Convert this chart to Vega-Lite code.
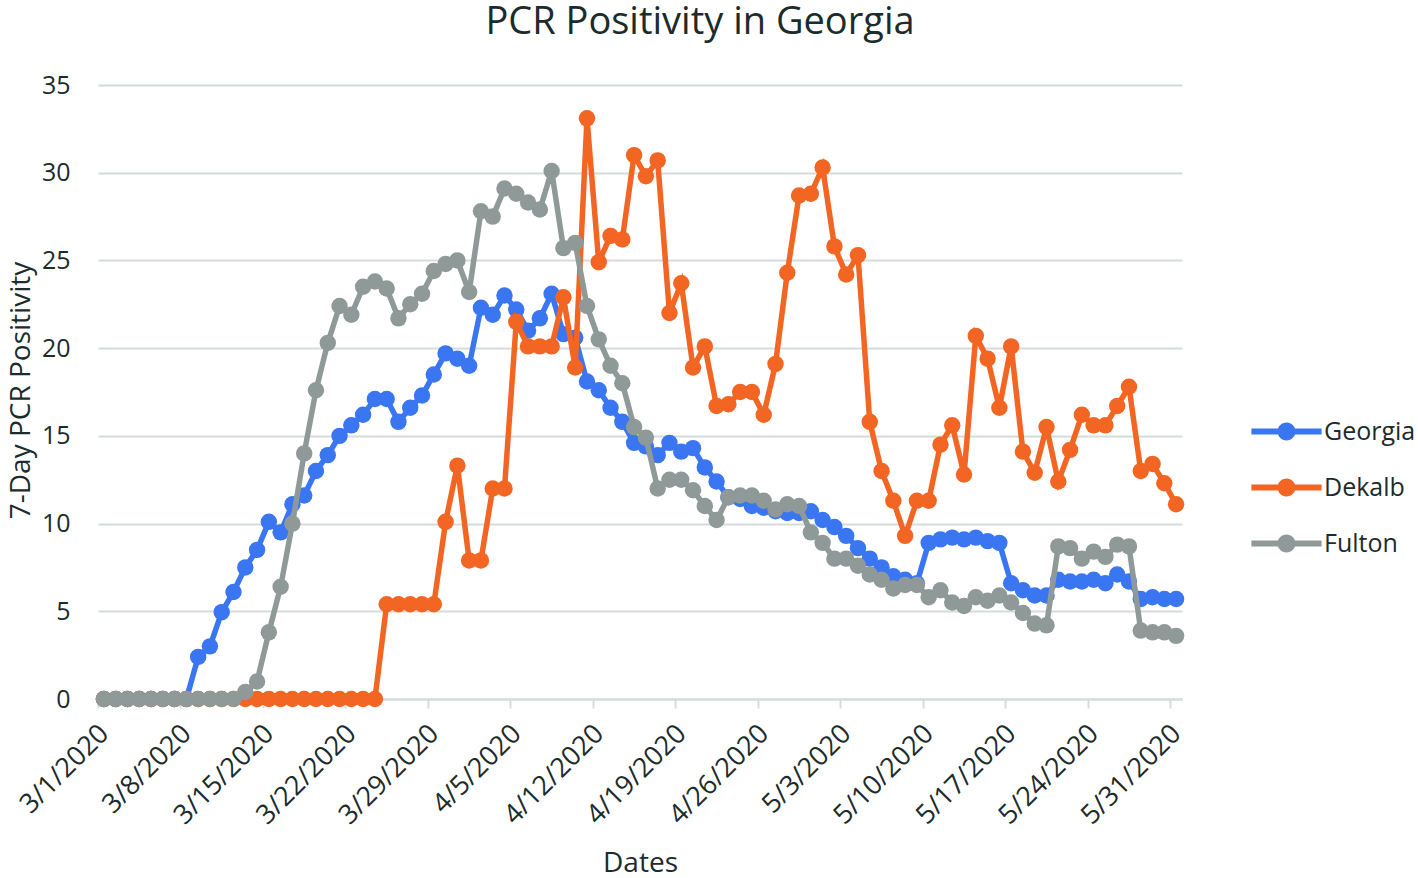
{
  "$schema": "https://vega.github.io/schema/vega-lite/v6.json",
  "width": 1084,
  "height": 614,
  "autosize": {"type": "none"},
  "padding": {"left": 98, "top": 85, "right": 236, "bottom": 179},
  "background": "white",
  "title": {"text": "PCR Positivity in Georgia", "font": "Open Sans", "fontSize": 38, "fontWeight": "normal", "color": "#1c2b2b", "anchor": "middle", "frame": "group", "dx": 60, "dy": 6, "baseline": "alphabetic", "offset": 7},
  "config": {
    "font": "Open Sans",
    "view": {"stroke": null}
  },
  "data": {"values": [
    {"d":"2020/03/01","s":"Georgia","v":0},{"d":"2020/03/02","s":"Georgia","v":0},{"d":"2020/03/03","s":"Georgia","v":0},{"d":"2020/03/04","s":"Georgia","v":0},{"d":"2020/03/05","s":"Georgia","v":0},{"d":"2020/03/06","s":"Georgia","v":0},{"d":"2020/03/07","s":"Georgia","v":0},{"d":"2020/03/08","s":"Georgia","v":0},{"d":"2020/03/09","s":"Georgia","v":2.4},{"d":"2020/03/10","s":"Georgia","v":3.0},{"d":"2020/03/11","s":"Georgia","v":4.95},{"d":"2020/03/12","s":"Georgia","v":6.1},{"d":"2020/03/13","s":"Georgia","v":7.5},{"d":"2020/03/14","s":"Georgia","v":8.5},{"d":"2020/03/15","s":"Georgia","v":10.1},{"d":"2020/03/16","s":"Georgia","v":9.5},{"d":"2020/03/17","s":"Georgia","v":11.1},{"d":"2020/03/18","s":"Georgia","v":11.6},{"d":"2020/03/19","s":"Georgia","v":13.0},{"d":"2020/03/20","s":"Georgia","v":13.9},{"d":"2020/03/21","s":"Georgia","v":15.0},{"d":"2020/03/22","s":"Georgia","v":15.6},{"d":"2020/03/23","s":"Georgia","v":16.2},{"d":"2020/03/24","s":"Georgia","v":17.1},{"d":"2020/03/25","s":"Georgia","v":17.1},{"d":"2020/03/26","s":"Georgia","v":15.8},{"d":"2020/03/27","s":"Georgia","v":16.6},{"d":"2020/03/28","s":"Georgia","v":17.3},{"d":"2020/03/29","s":"Georgia","v":18.5},{"d":"2020/03/30","s":"Georgia","v":19.7},{"d":"2020/03/31","s":"Georgia","v":19.4},
    {"d":"2020/04/01","s":"Georgia","v":19.0},{"d":"2020/04/02","s":"Georgia","v":22.3},{"d":"2020/04/03","s":"Georgia","v":21.9},{"d":"2020/04/04","s":"Georgia","v":23.0},{"d":"2020/04/05","s":"Georgia","v":22.2},{"d":"2020/04/06","s":"Georgia","v":21.0},{"d":"2020/04/07","s":"Georgia","v":21.7},{"d":"2020/04/08","s":"Georgia","v":23.1},{"d":"2020/04/09","s":"Georgia","v":20.8},{"d":"2020/04/10","s":"Georgia","v":20.6},{"d":"2020/04/11","s":"Georgia","v":18.1},{"d":"2020/04/12","s":"Georgia","v":17.6},{"d":"2020/04/13","s":"Georgia","v":16.6},{"d":"2020/04/14","s":"Georgia","v":15.8},{"d":"2020/04/15","s":"Georgia","v":14.6},{"d":"2020/04/16","s":"Georgia","v":14.4},{"d":"2020/04/17","s":"Georgia","v":13.9},{"d":"2020/04/18","s":"Georgia","v":14.6},{"d":"2020/04/19","s":"Georgia","v":14.1},{"d":"2020/04/20","s":"Georgia","v":14.3},{"d":"2020/04/21","s":"Georgia","v":13.2},{"d":"2020/04/22","s":"Georgia","v":12.4},{"d":"2020/04/23","s":"Georgia","v":11.5},{"d":"2020/04/24","s":"Georgia","v":11.4},{"d":"2020/04/25","s":"Georgia","v":11.0},{"d":"2020/04/26","s":"Georgia","v":10.9},{"d":"2020/04/27","s":"Georgia","v":10.7},{"d":"2020/04/28","s":"Georgia","v":10.6},{"d":"2020/04/29","s":"Georgia","v":10.6},{"d":"2020/04/30","s":"Georgia","v":10.7},
    {"d":"2020/05/01","s":"Georgia","v":10.2},{"d":"2020/05/02","s":"Georgia","v":9.8},{"d":"2020/05/03","s":"Georgia","v":9.3},{"d":"2020/05/04","s":"Georgia","v":8.6},{"d":"2020/05/05","s":"Georgia","v":8.0},{"d":"2020/05/06","s":"Georgia","v":7.5},{"d":"2020/05/07","s":"Georgia","v":7.0},{"d":"2020/05/08","s":"Georgia","v":6.8},{"d":"2020/05/09","s":"Georgia","v":6.6},{"d":"2020/05/10","s":"Georgia","v":8.9},{"d":"2020/05/11","s":"Georgia","v":9.1},{"d":"2020/05/12","s":"Georgia","v":9.2},{"d":"2020/05/13","s":"Georgia","v":9.1},{"d":"2020/05/14","s":"Georgia","v":9.2},{"d":"2020/05/15","s":"Georgia","v":9.0},{"d":"2020/05/16","s":"Georgia","v":8.9},{"d":"2020/05/17","s":"Georgia","v":6.6},{"d":"2020/05/18","s":"Georgia","v":6.2},{"d":"2020/05/19","s":"Georgia","v":5.9},{"d":"2020/05/20","s":"Georgia","v":5.9},{"d":"2020/05/21","s":"Georgia","v":6.8},{"d":"2020/05/22","s":"Georgia","v":6.7},{"d":"2020/05/23","s":"Georgia","v":6.7},{"d":"2020/05/24","s":"Georgia","v":6.8},{"d":"2020/05/25","s":"Georgia","v":6.6},{"d":"2020/05/26","s":"Georgia","v":7.1},{"d":"2020/05/27","s":"Georgia","v":6.7},{"d":"2020/05/28","s":"Georgia","v":5.7},{"d":"2020/05/29","s":"Georgia","v":5.8},{"d":"2020/05/30","s":"Georgia","v":5.7},{"d":"2020/05/31","s":"Georgia","v":5.7},

    {"d":"2020/03/01","s":"Dekalb","v":0},{"d":"2020/03/02","s":"Dekalb","v":0},{"d":"2020/03/03","s":"Dekalb","v":0},{"d":"2020/03/04","s":"Dekalb","v":0},{"d":"2020/03/05","s":"Dekalb","v":0},{"d":"2020/03/06","s":"Dekalb","v":0},{"d":"2020/03/07","s":"Dekalb","v":0},{"d":"2020/03/08","s":"Dekalb","v":0},{"d":"2020/03/09","s":"Dekalb","v":0},{"d":"2020/03/10","s":"Dekalb","v":0},{"d":"2020/03/11","s":"Dekalb","v":0},{"d":"2020/03/12","s":"Dekalb","v":0},{"d":"2020/03/13","s":"Dekalb","v":0},{"d":"2020/03/14","s":"Dekalb","v":0},{"d":"2020/03/15","s":"Dekalb","v":0},{"d":"2020/03/16","s":"Dekalb","v":0},{"d":"2020/03/17","s":"Dekalb","v":0},{"d":"2020/03/18","s":"Dekalb","v":0},{"d":"2020/03/19","s":"Dekalb","v":0},{"d":"2020/03/20","s":"Dekalb","v":0},{"d":"2020/03/21","s":"Dekalb","v":0},{"d":"2020/03/22","s":"Dekalb","v":0},{"d":"2020/03/23","s":"Dekalb","v":0},{"d":"2020/03/24","s":"Dekalb","v":0},{"d":"2020/03/25","s":"Dekalb","v":5.4},{"d":"2020/03/26","s":"Dekalb","v":5.4},{"d":"2020/03/27","s":"Dekalb","v":5.4},{"d":"2020/03/28","s":"Dekalb","v":5.4},{"d":"2020/03/29","s":"Dekalb","v":5.4},{"d":"2020/03/30","s":"Dekalb","v":10.1},{"d":"2020/03/31","s":"Dekalb","v":13.3},
    {"d":"2020/04/01","s":"Dekalb","v":7.9},{"d":"2020/04/02","s":"Dekalb","v":7.9},{"d":"2020/04/03","s":"Dekalb","v":12.0},{"d":"2020/04/04","s":"Dekalb","v":12.0},{"d":"2020/04/05","s":"Dekalb","v":21.5},{"d":"2020/04/06","s":"Dekalb","v":20.1},{"d":"2020/04/07","s":"Dekalb","v":20.1},{"d":"2020/04/08","s":"Dekalb","v":20.1},{"d":"2020/04/09","s":"Dekalb","v":22.9},{"d":"2020/04/10","s":"Dekalb","v":18.9},{"d":"2020/04/11","s":"Dekalb","v":33.1},{"d":"2020/04/12","s":"Dekalb","v":24.9},{"d":"2020/04/13","s":"Dekalb","v":26.4},{"d":"2020/04/14","s":"Dekalb","v":26.2},{"d":"2020/04/15","s":"Dekalb","v":31.0},{"d":"2020/04/16","s":"Dekalb","v":29.8},{"d":"2020/04/17","s":"Dekalb","v":30.7},{"d":"2020/04/18","s":"Dekalb","v":22.0},{"d":"2020/04/19","s":"Dekalb","v":23.7},{"d":"2020/04/20","s":"Dekalb","v":18.9},{"d":"2020/04/21","s":"Dekalb","v":20.1},{"d":"2020/04/22","s":"Dekalb","v":16.7},{"d":"2020/04/23","s":"Dekalb","v":16.8},{"d":"2020/04/24","s":"Dekalb","v":17.5},{"d":"2020/04/25","s":"Dekalb","v":17.5},{"d":"2020/04/26","s":"Dekalb","v":16.2},{"d":"2020/04/27","s":"Dekalb","v":19.1},{"d":"2020/04/28","s":"Dekalb","v":24.3},{"d":"2020/04/29","s":"Dekalb","v":28.7},{"d":"2020/04/30","s":"Dekalb","v":28.8},
    {"d":"2020/05/01","s":"Dekalb","v":30.3},{"d":"2020/05/02","s":"Dekalb","v":25.8},{"d":"2020/05/03","s":"Dekalb","v":24.2},{"d":"2020/05/04","s":"Dekalb","v":25.3},{"d":"2020/05/05","s":"Dekalb","v":15.8},{"d":"2020/05/06","s":"Dekalb","v":13.0},{"d":"2020/05/07","s":"Dekalb","v":11.3},{"d":"2020/05/08","s":"Dekalb","v":9.3},{"d":"2020/05/09","s":"Dekalb","v":11.3},{"d":"2020/05/10","s":"Dekalb","v":11.3},{"d":"2020/05/11","s":"Dekalb","v":14.5},{"d":"2020/05/12","s":"Dekalb","v":15.6},{"d":"2020/05/13","s":"Dekalb","v":12.8},{"d":"2020/05/14","s":"Dekalb","v":20.7},{"d":"2020/05/15","s":"Dekalb","v":19.4},{"d":"2020/05/16","s":"Dekalb","v":16.6},{"d":"2020/05/17","s":"Dekalb","v":20.1},{"d":"2020/05/18","s":"Dekalb","v":14.1},{"d":"2020/05/19","s":"Dekalb","v":12.9},{"d":"2020/05/20","s":"Dekalb","v":15.5},{"d":"2020/05/21","s":"Dekalb","v":12.4},{"d":"2020/05/22","s":"Dekalb","v":14.2},{"d":"2020/05/23","s":"Dekalb","v":16.2},{"d":"2020/05/24","s":"Dekalb","v":15.6},{"d":"2020/05/25","s":"Dekalb","v":15.6},{"d":"2020/05/26","s":"Dekalb","v":16.7},{"d":"2020/05/27","s":"Dekalb","v":17.8},{"d":"2020/05/28","s":"Dekalb","v":13.0},{"d":"2020/05/29","s":"Dekalb","v":13.4},{"d":"2020/05/30","s":"Dekalb","v":12.3},{"d":"2020/05/31","s":"Dekalb","v":11.1},

    {"d":"2020/03/01","s":"Fulton","v":0},{"d":"2020/03/02","s":"Fulton","v":0},{"d":"2020/03/03","s":"Fulton","v":0},{"d":"2020/03/04","s":"Fulton","v":0},{"d":"2020/03/05","s":"Fulton","v":0},{"d":"2020/03/06","s":"Fulton","v":0},{"d":"2020/03/07","s":"Fulton","v":0},{"d":"2020/03/08","s":"Fulton","v":0},{"d":"2020/03/09","s":"Fulton","v":0},{"d":"2020/03/10","s":"Fulton","v":0},{"d":"2020/03/11","s":"Fulton","v":0},{"d":"2020/03/12","s":"Fulton","v":0},{"d":"2020/03/13","s":"Fulton","v":0.4},{"d":"2020/03/14","s":"Fulton","v":1.0},{"d":"2020/03/15","s":"Fulton","v":3.8},{"d":"2020/03/16","s":"Fulton","v":6.4},{"d":"2020/03/17","s":"Fulton","v":10.0},{"d":"2020/03/18","s":"Fulton","v":14.0},{"d":"2020/03/19","s":"Fulton","v":17.6},{"d":"2020/03/20","s":"Fulton","v":20.3},{"d":"2020/03/21","s":"Fulton","v":22.4},{"d":"2020/03/22","s":"Fulton","v":21.9},{"d":"2020/03/23","s":"Fulton","v":23.5},{"d":"2020/03/24","s":"Fulton","v":23.8},{"d":"2020/03/25","s":"Fulton","v":23.4},{"d":"2020/03/26","s":"Fulton","v":21.7},{"d":"2020/03/27","s":"Fulton","v":22.5},{"d":"2020/03/28","s":"Fulton","v":23.1},{"d":"2020/03/29","s":"Fulton","v":24.4},{"d":"2020/03/30","s":"Fulton","v":24.8},{"d":"2020/03/31","s":"Fulton","v":25.0},
    {"d":"2020/04/01","s":"Fulton","v":23.2},{"d":"2020/04/02","s":"Fulton","v":27.8},{"d":"2020/04/03","s":"Fulton","v":27.5},{"d":"2020/04/04","s":"Fulton","v":29.1},{"d":"2020/04/05","s":"Fulton","v":28.8},{"d":"2020/04/06","s":"Fulton","v":28.3},{"d":"2020/04/07","s":"Fulton","v":27.9},{"d":"2020/04/08","s":"Fulton","v":30.1},{"d":"2020/04/09","s":"Fulton","v":25.7},{"d":"2020/04/10","s":"Fulton","v":26.0},{"d":"2020/04/11","s":"Fulton","v":22.4},{"d":"2020/04/12","s":"Fulton","v":20.5},{"d":"2020/04/13","s":"Fulton","v":19.0},{"d":"2020/04/14","s":"Fulton","v":18.0},{"d":"2020/04/15","s":"Fulton","v":15.5},{"d":"2020/04/16","s":"Fulton","v":14.9},{"d":"2020/04/17","s":"Fulton","v":12.0},{"d":"2020/04/18","s":"Fulton","v":12.5},{"d":"2020/04/19","s":"Fulton","v":12.5},{"d":"2020/04/20","s":"Fulton","v":11.9},{"d":"2020/04/21","s":"Fulton","v":11.0},{"d":"2020/04/22","s":"Fulton","v":10.2},{"d":"2020/04/23","s":"Fulton","v":11.5},{"d":"2020/04/24","s":"Fulton","v":11.6},{"d":"2020/04/25","s":"Fulton","v":11.6},{"d":"2020/04/26","s":"Fulton","v":11.3},{"d":"2020/04/27","s":"Fulton","v":10.8},{"d":"2020/04/28","s":"Fulton","v":11.1},{"d":"2020/04/29","s":"Fulton","v":11.0},{"d":"2020/04/30","s":"Fulton","v":9.5},
    {"d":"2020/05/01","s":"Fulton","v":8.9},{"d":"2020/05/02","s":"Fulton","v":8.0},{"d":"2020/05/03","s":"Fulton","v":8.0},{"d":"2020/05/04","s":"Fulton","v":7.6},{"d":"2020/05/05","s":"Fulton","v":7.1},{"d":"2020/05/06","s":"Fulton","v":6.8},{"d":"2020/05/07","s":"Fulton","v":6.3},{"d":"2020/05/08","s":"Fulton","v":6.5},{"d":"2020/05/09","s":"Fulton","v":6.5},{"d":"2020/05/10","s":"Fulton","v":5.8},{"d":"2020/05/11","s":"Fulton","v":6.2},{"d":"2020/05/12","s":"Fulton","v":5.5},{"d":"2020/05/13","s":"Fulton","v":5.3},{"d":"2020/05/14","s":"Fulton","v":5.8},{"d":"2020/05/15","s":"Fulton","v":5.6},{"d":"2020/05/16","s":"Fulton","v":5.9},{"d":"2020/05/17","s":"Fulton","v":5.5},{"d":"2020/05/18","s":"Fulton","v":4.9},{"d":"2020/05/19","s":"Fulton","v":4.3},{"d":"2020/05/20","s":"Fulton","v":4.2},{"d":"2020/05/21","s":"Fulton","v":8.7},{"d":"2020/05/22","s":"Fulton","v":8.6},{"d":"2020/05/23","s":"Fulton","v":8.0},{"d":"2020/05/24","s":"Fulton","v":8.4},{"d":"2020/05/25","s":"Fulton","v":8.1},{"d":"2020/05/26","s":"Fulton","v":8.8},{"d":"2020/05/27","s":"Fulton","v":8.7},{"d":"2020/05/28","s":"Fulton","v":3.9},{"d":"2020/05/29","s":"Fulton","v":3.8},{"d":"2020/05/30","s":"Fulton","v":3.8},{"d":"2020/05/31","s":"Fulton","v":3.6}
  ]},
  "encoding": {
    "x": {
      "field": "d", "type": "temporal",
      "scale": {"domain": [{"year": 2020, "month": 2, "date": 29, "hours": 12}, {"year": 2020, "month": 5, "date": 31, "hours": 12}]},
      "axis": {
        "values": [
          {"year": 2020, "month": 3, "date": 1}, {"year": 2020, "month": 3, "date": 8}, {"year": 2020, "month": 3, "date": 15}, {"year": 2020, "month": 3, "date": 22}, {"year": 2020, "month": 3, "date": 29},
          {"year": 2020, "month": 4, "date": 5}, {"year": 2020, "month": 4, "date": 12}, {"year": 2020, "month": 4, "date": 19}, {"year": 2020, "month": 4, "date": 26},
          {"year": 2020, "month": 5, "date": 3}, {"year": 2020, "month": 5, "date": 10}, {"year": 2020, "month": 5, "date": 17}, {"year": 2020, "month": 5, "date": 24}, {"year": 2020, "month": 5, "date": 31}
        ],
        "format": "%-m/%-d/%Y",
        "labelAngle": -45, "labelAlign": "right", "labelBaseline": "top",
        "labelFontSize": 27, "labelColor": "#1c2b2b", "labelPadding": 12,
        "labelOverlap": false, "labelFlush": false, "labelBound": false,
        "tickOffset": -6, "labelOffset": -3,
        "grid": false,
        "domainColor": "#d5dcd9", "domainWidth": 2,
        "tickColor": "#d5dcd9", "tickWidth": 2, "tickSize": 9,
        "title": "Dates", "titleFontSize": 28, "titleFontWeight": "normal", "titleColor": "#1c2b2b",
        "titleX": 542, "titleY": 172, "titleAlign": "center", "titleBaseline": "alphabetic"
      }
    },
    "y": {
      "field": "v", "type": "quantitative",
      "scale": {"domain": [0, 35], "nice": false, "zero": true},
      "axis": {
        "values": [0, 5, 10, 15, 20, 25, 30, 35],
        "grid": true, "gridColor": "#d5dcd9", "gridWidth": 2,
        "domain": false, "ticks": false,
        "labelPadding": 28, "labelFontSize": 25, "labelColor": "#1c2b2b",
        "title": "7-Day PCR Positivity", "titleFontSize": 28, "titleFontWeight": "normal", "titleColor": "#1c2b2b",
        "titleAngle": -90, "titleX": -69, "titleY": 305, "titleAlign": "center", "titleBaseline": "alphabetic"
      }
    },
    "color": {
      "field": "s", "type": "nominal",
      "scale": {"domain": ["Georgia", "Dekalb", "Fulton"], "range": ["#3a76f2", "#f26522", "#8f9a98"]},
      "legend": {
        "title": null, "orient": "none", "legendX": 1176, "legendY": 334,
        "padding": 0, "rowPadding": 30,
        "symbolType": "M-3.9,-0.33H3.9V0.33H-3.9Z M0,-1A1,1,0,1,1,0,1A1,1,0,1,1,0,-1Z",
        "symbolSize": 324, "symbolStrokeWidth": 0, "symbolOpacity": 1,
        "labelFontSize": 25, "labelColor": "#1c2b2b", "labelOffset": 25,
        "encode": {"symbols": {"update": {"fill": {"scale": "color", "field": "value"}, "stroke": {"value": "transparent"}, "opacity": {"value": 1}}}}
      }
    }
  },
  "layer": [
    {"transform": [{"filter": "datum.s === 'Georgia'"}], "mark": {"type": "line", "strokeWidth": 5.5}},
    {"transform": [{"filter": "datum.s === 'Georgia'"}], "mark": {"type": "point", "filled": true, "size": 270, "opacity": 1}},
    {"transform": [{"filter": "datum.s === 'Dekalb'"}], "mark": {"type": "line", "strokeWidth": 5.5}},
    {"transform": [{"filter": "datum.s === 'Dekalb'"}], "mark": {"type": "point", "filled": true, "size": 270, "opacity": 1}},
    {"transform": [{"filter": "datum.s === 'Fulton'"}], "mark": {"type": "line", "strokeWidth": 5.5}},
    {"transform": [{"filter": "datum.s === 'Fulton'"}], "mark": {"type": "point", "filled": true, "size": 270, "opacity": 1}}
  ]
}
